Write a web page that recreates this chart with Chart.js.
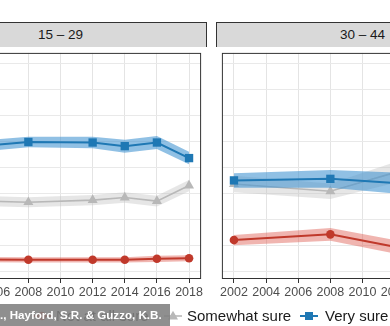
<!DOCTYPE html>
<html>
<head>
<meta charset="utf-8">
<script src="https://cdn.jsdelivr.net/npm/chart.js@4"></script>
<style>
  html, body { margin: 0; padding: 0; background: #fff; }
  body {
    width: 390px; height: 326px; overflow: hidden; position: relative;
    font-family: "Liberation Sans", Arial, sans-serif;
  }
  .strip {
    position: absolute; top: 22px; width: 293px; height: 25px;
    box-sizing: border-box; background: #d9d9d9;
    border: 1px solid #333; border-bottom: none;
    font-size: 13.5px; color: #1a1a1a; text-align: center; line-height: 24px;
  }
  .panel { position: absolute; top: 47px; width: 293px; height: 262px; }
  .key { position: absolute; top: 309px; width: 18px; height: 14px; }
  .label { position: absolute; top: 308px; font-size: 15px; line-height: 16px; color: #1a1a1a; white-space: nowrap; }
  .credit {
    position: absolute; left: 0; top: 304px; width: 170px; height: 22px;
    background: rgba(128, 128, 128, 0.88); color: #fff; font-weight: bold;
    font-size: 11.6px; line-height: 22px; white-space: nowrap; overflow: hidden;
  }
</style>
</head>
<body>
<div class="strip" id="strip0" style="left:-86px"></div>
<div class="strip" id="strip1" style="left:216px"></div>
<div class="panel" style="left:-86px"><canvas id="panel0"></canvas></div>
<div class="panel" style="left:216px"><canvas id="panel1"></canvas></div>
<div id="legend"></div>
<div class="credit">., Hayford, S.R. &amp; Guzzo, K.B.</div>

<script>
// Age groups (facets)
const ageGroups = ['15 – 29', '30 – 44'];

// Survey years shown in each facet
const years1529 = [2002, 2008, 2012, 2014, 2016, 2018];
const years3044 = [2002, 2008, 2012];

// Percent of respondents by certainty, ages 15–29
const notSure1529      = [22.3, 22.2, 22.2, 22.2, 22.4, 22.5];
const somewhatSure1529 = [33.8, 33.3, 33.7, 34.2, 33.5, 36.5];
const verySure1529     = [43.3, 44.9, 44.8, 44.1, 44.8, 41.8];
// Confidence half-widths, ages 15–29
const notSureCI1529      = [0.5, 0.5, 0.5, 0.5, 0.6, 0.6];
const somewhatSureCI1529 = [1.0, 0.95, 1.0, 1.0, 1.05, 1.1];
const verySureCI1529     = [1.1, 1.0, 1.1, 1.25, 1.25, 1.2];

// Percent of respondents by certainty, ages 30–44
const notSure3044      = [26.0, 27.1, 24.7];
const somewhatSure3044 = [36.8, 35.4, 39.0];
const verySure3044     = [37.5, 37.8, 37.0];
// Confidence half-widths, ages 30–44
const notSureCI3044      = [1.0, 1.25, 1.3];
const somewhatSureCI3044 = [1.6, 1.5, 2.0];
const verySureCI3044     = [1.4, 1.7, 2.0];

// Axis breaks
const yearTicks = [2002, 2004, 2006, 2008, 2010, 2012, 2014, 2016, 2018];
const percentGrid = [20, 25, 30, 35, 40, 45, 50, 55, 60];

const seriesNames = ['Not at all sure', 'Somewhat sure', 'Very sure'];

const styles = [
  { line: '#c0392b', band: 'rgba(222, 90, 80, 0.45)', point: 'circle',   radius: 4.3, width: 2 },
  { line: '#b8b8b8', band: 'rgba(195, 195, 195, 0.42)', point: 'triangle', radius: 5.8, width: 1.6 },
  { line: '#1f78b4', band: 'rgba(70, 150, 210, 0.6)', point: 'rect',     radius: 5.9, width: 2 }
];

const FONT = '"Liberation Sans", Arial, sans-serif';

// Frame drawn over the plotting area, like a facet panel border
const panelFrame = {
  id: 'panelFrame',
  afterDraw(chart) {
    const { ctx, chartArea: a } = chart;
    ctx.save();
    ctx.strokeStyle = '#333';
    ctx.lineWidth = 1;
    ctx.strokeRect(a.left + 0.5, a.top + 0.5, a.right - a.left - 1, a.bottom - a.top - 1);
    ctx.restore();
  }
};

function pts(years, vals, offs, sign) {
  return years.map((x, i) => ({ x, y: vals[i] + (offs ? sign * offs[i] : 0) }));
}

function buildPanel(canvasId, years, values, cis) {
  const datasets = [];
  // drawn bottom to top: Not at all sure, Somewhat sure, Very sure
  values.forEach((vals, s) => {
    const st = styles[s];
    const base = 10 - s * 3;
    const upperIdx = datasets.length;
    datasets.push({
      label: seriesNames[s] + ' upper',
      data: pts(years, vals, cis[s], 1),
      fill: { target: upperIdx + 1 },
      backgroundColor: st.band,
      borderWidth: 0, pointRadius: 0, tension: 0,
      order: base + 1
    });
    datasets.push({
      label: seriesNames[s] + ' lower',
      data: pts(years, vals, cis[s], -1),
      fill: false,
      borderWidth: 0, pointRadius: 0, tension: 0,
      order: base + 1
    });
    datasets.push({
      label: seriesNames[s],
      data: pts(years, vals, null, 0),
      fill: false,
      borderColor: st.line, borderWidth: st.width,
      pointStyle: st.point, pointRadius: st.radius,
      pointBackgroundColor: st.line, pointBorderWidth: 0,
      tension: 0,
      order: base
    });
  });

  return new Chart(document.getElementById(canvasId), {
    type: 'line',
    data: { datasets },
    options: {
      responsive: true,
      maintainAspectRatio: false,
      animation: false,
      events: [],
      layout: { padding: 0 },
      plugins: { legend: { display: false }, tooltip: { enabled: false } },
      scales: {
        x: {
          type: 'linear', min: 2001.25, max: 2018.75,
          afterBuildTicks: s => { s.ticks = yearTicks.map(v => ({ value: v })); },
          afterFit: s => { s.height = 30; s.paddingLeft = 0; s.paddingRight = 0; },
          grid: { color: '#e4e4e4', lineWidth: 1, tickLength: 4, tickColor: '#333' },
          border: { display: false },
          ticks: {
            font: { family: FONT, size: 12.5 }, color: '#4d4d4d', padding: 2,
            maxRotation: 0, autoSkip: false, callback: v => String(v)
          }
        },
        y: {
          type: 'linear', min: 18.5, max: 62.07,
          afterBuildTicks: s => { s.ticks = percentGrid.map(v => ({ value: v })); },
          afterFit: s => { s.width = 0; s.paddingTop = 0; s.paddingBottom = 0; },
          grid: { color: '#e9e9e9', lineWidth: 1, drawTicks: false },
          border: { display: false },
          ticks: { display: false }
        }
      }
    },
    plugins: [panelFrame]
  });
}

document.getElementById('strip0').textContent = ageGroups[0];
document.getElementById('strip1').textContent = ageGroups[1];

buildPanel('panel0', years1529,
  [notSure1529, somewhatSure1529, verySure1529],
  [notSureCI1529, somewhatSureCI1529, verySureCI1529]);
buildPanel('panel1', years3044,
  [notSure3044, somewhatSure3044, verySure3044],
  [notSureCI3044, somewhatSureCI3044, verySureCI3044]);

// Legend: line-and-point keys with labels
const legendKeyX = [33, 164, 300];
const legendLabelX = [56, 187, 325];
const legend = document.getElementById('legend');
seriesNames.forEach((name, s) => {
  const st = styles[s];
  let mark;
  if (st.point === 'circle') mark = '<circle cx="9" cy="7" r="4.2" fill="' + st.line + '"/>';
  else if (st.point === 'triangle') mark = '<polygon points="9,1.8 14,10.5 4,10.5" fill="' + st.line + '"/>';
  else mark = '<rect x="5" y="3" width="8" height="8" fill="' + st.line + '"/>';
  const key = document.createElement('div');
  key.className = 'key';
  key.style.left = legendKeyX[s] + 'px';
  key.innerHTML = '<svg width="18" height="14"><line x1="0" y1="7" x2="18" y2="7" stroke="' +
    st.line + '" stroke-width="' + st.width + '"/>' + mark + '</svg>';
  legend.appendChild(key);
  const lab = document.createElement('div');
  lab.className = 'label';
  lab.style.left = legendLabelX[s] + 'px';
  lab.textContent = name;
  legend.appendChild(lab);
});
</script>
</body>
</html>
